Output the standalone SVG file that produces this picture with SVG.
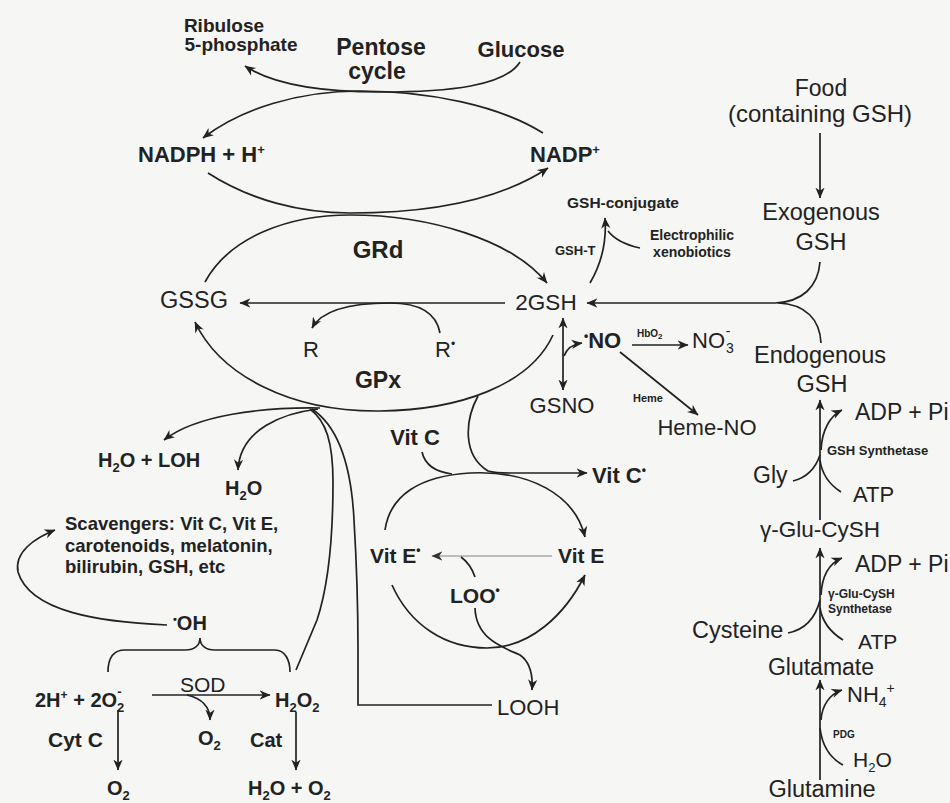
<svg xmlns="http://www.w3.org/2000/svg" width="950" height="803" viewBox="0 0 950 803">
<defs>
<marker id="ah" viewBox="0 0 10 10" refX="9.5" refY="5" markerWidth="11" markerHeight="11" markerUnits="userSpaceOnUse" orient="auto-start-reverse">
<path d="M0,0.8 L10,5 L0,9.2 L3,5 z" fill="#222"/>
</marker>
<marker id="ahg" viewBox="0 0 10 10" refX="9.5" refY="5" markerWidth="11" markerHeight="11" markerUnits="userSpaceOnUse" orient="auto">
<path d="M0,0.8 L10,5 L0,9.2 L3,5 z" fill="#333"/>
</marker>
<style>
text{font-family:"Liberation Sans",Arial,Helvetica,sans-serif;fill:#222}
.b{font-weight:bold}
.c{stroke:#222;stroke-width:1.7;fill:none}
.a{marker-end:url(#ah)}
.g{stroke:#aaa;stroke-width:1.7;fill:none;marker-end:url(#ahg)}
.s{font-size:13px;font-weight:bold}
</style>
</defs>
<rect width="950" height="803" fill="#f6f6f4"/>

<g id="connectors">
<path class="c a" d="M520,62 C505,86 450,92 380,92 C320,92 272,84 245,66"/>
<path class="c a" d="M543,133 C500,106 430,91 360,91 C300,91 242,108 203,138"/>
<path class="c a" d="M208,173 C250,200 300,213 350,213 C430,213 500,200 548,168"/>
<path class="c a" d="M205,282 C230,236 290,215 350,215 C430,215 512,240 547,283"/>
<path class="c a" d="M553,335 C530,385 460,410 380,411 C290,412 220,375 195,322"/>
<path class="c a" d="M505,303 L240,303"/>
<path class="c a" d="M440,333 C436,311 416,303 390,303 C352,303 322,310 312,328"/>
<path class="c a" d="M590,283 C600,266 607,245 605,218"/>
<path class="c" d="M640,248 C626,245 615,240 608,231"/>
<path class="c a" d="M820,133 L820,198"/>
<path class="c a" d="M820,262 C818,287 802,302 775,303 L587,303"/>
<path class="c" d="M821,343 C820,320 806,304 778,303"/>
<path class="c a" d="M563,390 L563,318" style="marker-start:url(#ah)"/>
<path class="c a" d="M564,356 C567,348 574,344 582,343"/>
<path class="c a" d="M632,345 L688,345"/>
<path class="c a" d="M620,352 L698,415"/>
<path class="c a" d="M320,408 C262,407 196,415 164,440"/>
<path class="c a" d="M318,409 C285,413 240,428 238,470"/>
<path class="c" d="M296,670 L317,620 C327,590 333,540 333,482 C333,442 326,421 310,409"/>
<path class="c" d="M312,409 C336,425 351,460 354,520 C357,570 358,620 358,650 L358,705 L492,705"/>
<path class="c a" d="M478,396 C465,420 462,455 488,471 C495,473 500,473 510,473 L587,473"/>
<path class="c" d="M422,452 C425,465 436,472 452,474"/>
<path class="c a" d="M385,530 C390,495 420,476 470,473 C530,470 575,495 585,537"/>
<path class="g" d="M552,556 L432,556"/>
<path class="c" d="M475,577 C472,568 468,562 461,557"/>
<path class="c a" d="M392,585 C410,625 445,648 487,648 C530,648 565,615 585,575"/>
<path class="c a" d="M475,608 C476,640 505,648 520,655 C530,662 533,675 532,690"/>
<path class="c a" d="M167,625 C100,622 30,612 18,572 C14,552 35,538 55,530"/>
<path class="c" d="M108,672 C108,660 112,650 125,650 L185,650 C195,650 200,645 200,638 C200,645 205,650 215,650 L275,650 C285,650 290,660 290,672"/>
<path class="c a" d="M152,695 L270,695"/>
<path class="c a" d="M187,695 C200,698 210,705 210,720"/>
<path class="c a" d="M118,710 L118,770"/>
<path class="c a" d="M296,712 L296,770"/>
<path class="c a" d="M820,520 L820,400"/>
<path class="c a" d="M821,450 C822,430 830,416 842,410"/>
<path class="c" d="M793,481 C805,478 815,470 820,455"/>
<path class="c" d="M841,492 C830,485 822,475 820,460"/>
<path class="c a" d="M820,662 L820,548"/>
<path class="c a" d="M821,595 C822,575 830,563 842,558"/>
<path class="c" d="M788,633 C803,630 815,620 820,600"/>
<path class="c" d="M843,640 C830,632 822,620 820,608"/>
<path class="c a" d="M820,780 L820,680"/>
<path class="c a" d="M821,720 C822,705 830,694 842,690"/>
<path class="c" d="M843,765 C830,758 822,745 820,728"/>
</g>

<g id="ribulose"><text class="b" x="224" y="32" text-anchor="middle" font-size="19">Ribulose</text><text class="b" x="241" y="51" text-anchor="middle" font-size="19">5-phosphate</text></g>
<g id="pentose"><text class="b" x="381" y="55" text-anchor="middle" font-size="23">Pentose</text><text class="b" x="377" y="79" text-anchor="middle" font-size="23">cycle</text></g>
<g id="glucose"><text class="b" x="521" y="57" text-anchor="middle" font-size="22">Glucose</text></g>
<g id="nadph"><text class="b" x="138" y="162" font-size="22">NADPH + H<tspan dy="-8" font-size="13">+</tspan></text></g>
<g id="nadp"><text class="b" x="530" y="162" font-size="22">NADP<tspan dy="-8" font-size="13">+</tspan></text></g>
<g id="grd"><text class="b" x="378" y="258" text-anchor="middle" font-size="24">GRd</text></g>
<g id="gssg"><text x="194" y="308" text-anchor="middle" font-size="23.5">GSSG</text></g>
<g id="gsh2"><text x="546" y="310" text-anchor="middle" font-size="22.5">2GSH</text></g>
<g id="r"><text x="303" y="357" font-size="22">R</text></g>
<g id="rrad"><text x="435" y="357" font-size="22">R<tspan dy="-9" font-size="12">•</tspan></text></g>
<g id="gpx"><text class="b" x="378" y="388" text-anchor="middle" font-size="23">GPx</text></g>
<g id="conj"><text class="b" x="567" y="208" font-size="15.5">GSH-conjugate</text></g>
<g id="gsht"><text class="s" x="555" y="255">GSH-T</text></g>
<g id="electro"><text class="b" x="692" y="240" text-anchor="middle" font-size="14">Electrophilic</text><text class="b" x="692" y="257" text-anchor="middle" font-size="14">xenobiotics</text></g>
<g id="food"><text x="821" y="96" text-anchor="middle" font-size="23">Food</text><text x="820" y="122" text-anchor="middle" font-size="24">(containing GSH)</text></g>
<g id="exo"><text x="821" y="220" text-anchor="middle" font-size="23.5">Exogenous</text><text x="821" y="250" text-anchor="middle" font-size="23.5">GSH</text></g>
<g id="no"><text class="b" x="584" y="348" font-size="22"><tspan dy="-8" font-size="12">•</tspan><tspan dy="8">NO</tspan></text></g>
<g id="hbo2"><text class="b" x="637" y="337" font-size="10">HbO<tspan dy="2" font-size="8">2</tspan></text></g>
<g id="no3"><text x="692" y="348" font-size="22">NO<tspan dx="1" dy="5" font-size="14">3</tspan><tspan dx="-8" dy="-17" font-size="14">-</tspan></text></g>
<g id="heme"><text class="b" x="633" y="402" font-size="11">Heme</text></g>
<g id="hemeno"><text x="707" y="435" text-anchor="middle" font-size="22">Heme-NO</text></g>
<g id="gsno"><text x="562" y="413" text-anchor="middle" font-size="22">GSNO</text></g>
<g id="endo"><text x="820" y="363" text-anchor="middle" font-size="23.5">Endogenous</text><text x="822" y="392" text-anchor="middle" font-size="23.5">GSH</text></g>
<g id="adp1"><text x="855" y="420" font-size="23">ADP + Pi</text></g>
<g id="gshsyn"><text class="b" x="827" y="455" font-size="13">GSH Synthetase</text></g>
<g id="gly"><text x="753" y="483" font-size="23">Gly</text></g>
<g id="atp1"><text x="853" y="502" font-size="22">ATP</text></g>
<g id="glucysh"><text x="820" y="537" text-anchor="middle" font-size="22.5">γ-Glu-CySH</text></g>
<g id="adp2"><text x="855" y="572" font-size="23">ADP + Pi</text></g>
<g id="glusyn"><text class="b" x="828" y="598" font-size="12">γ-Glu-CySH</text><text class="b" x="828" y="613" font-size="12">Synthetase</text></g>
<g id="cysteine"><text x="692" y="638" font-size="23.5">Cysteine</text></g>
<g id="atp2"><text x="858" y="649" font-size="21">ATP</text></g>
<g id="glutamate"><text x="821" y="675" text-anchor="middle" font-size="23">Glutamate</text></g>
<g id="nh4"><text x="847" y="702" font-size="22">NH<tspan dy="5" font-size="14">4</tspan><tspan dy="-14" font-size="14">+</tspan></text></g>
<g id="pdg"><text class="b" x="833" y="738" font-size="10">PDG</text></g>
<g id="h2o_r"><text x="853" y="767" font-size="21">H<tspan dy="5" font-size="13">2</tspan><tspan dy="-5">O</tspan></text></g>
<g id="glutamine"><text x="822" y="797" text-anchor="middle" font-size="23.5">Glutamine</text></g>

<g id="h2oloh"><text class="b" x="98" y="467" font-size="20">H<tspan dy="5" font-size="13">2</tspan><tspan dy="-5">O + LOH</tspan></text></g>
<g id="h2o"><text class="b" x="225" y="495" font-size="20">H<tspan dy="5" font-size="13">2</tspan><tspan dy="-5">O</tspan></text></g>
<g id="scav"><text class="b" x="65" y="530" font-size="18.5">Scavengers: Vit C, Vit E,</text><text class="b" x="65" y="552" font-size="18.5">carotenoids, melatonin,</text><text class="b" x="65" y="573" font-size="18.5">bilirubin, GSH, etc</text></g>
<g id="oh"><text class="b" x="173" y="630" font-size="20"><tspan dy="-7" font-size="11">•</tspan><tspan dy="7">OH</tspan></text></g>
<g id="o2minus"><text class="b" x="35" y="707" font-size="20">2H<tspan dy="-8" font-size="12">+</tspan><tspan dy="8"> + 2O</tspan><tspan dy="5" font-size="13">2</tspan><tspan dx="-7" dy="-16" font-size="13">-</tspan></text></g>
<g id="sod"><text x="180" y="692" font-size="21">SOD</text></g>
<g id="h2o2"><text class="b" x="275" y="707" font-size="20">H<tspan dy="5" font-size="13">2</tspan><tspan dy="-5">O</tspan><tspan dy="5" font-size="13">2</tspan></text></g>
<g id="o2mid"><text class="b" x="198" y="745" font-size="20">O<tspan dy="5" font-size="13">2</tspan></text></g>
<g id="cytc"><text class="b" x="48" y="747" font-size="21">Cyt C</text></g>
<g id="o2left"><text class="b" x="107" y="795" font-size="20">O<tspan dy="5" font-size="13">2</tspan></text></g>
<g id="cat"><text class="b" x="250" y="747" font-size="20">Cat</text></g>
<g id="h2oo2"><text class="b" x="248" y="795" font-size="20">H<tspan dy="5" font-size="13">2</tspan><tspan dy="-5">O + O</tspan><tspan dy="5" font-size="13">2</tspan></text></g>

<g id="vitc"><text class="b" x="415" y="445" text-anchor="middle" font-size="22">Vit C</text></g>
<g id="vitcrad"><text class="b" x="592" y="483" font-size="22">Vit C<tspan dy="-9" font-size="12">•</tspan></text></g>
<g id="viterad"><text class="b" x="370" y="563" font-size="21">Vit E<tspan dy="-9" font-size="12">•</tspan></text></g>
<g id="vite"><text class="b" x="558" y="563" font-size="21">Vit E</text></g>
<g id="loo"><text class="b" x="450" y="603" font-size="21">LOO<tspan dy="-9" font-size="12">•</tspan></text></g>
<g id="looh"><text x="497" y="715" font-size="22">LOOH</text></g>
</svg>
